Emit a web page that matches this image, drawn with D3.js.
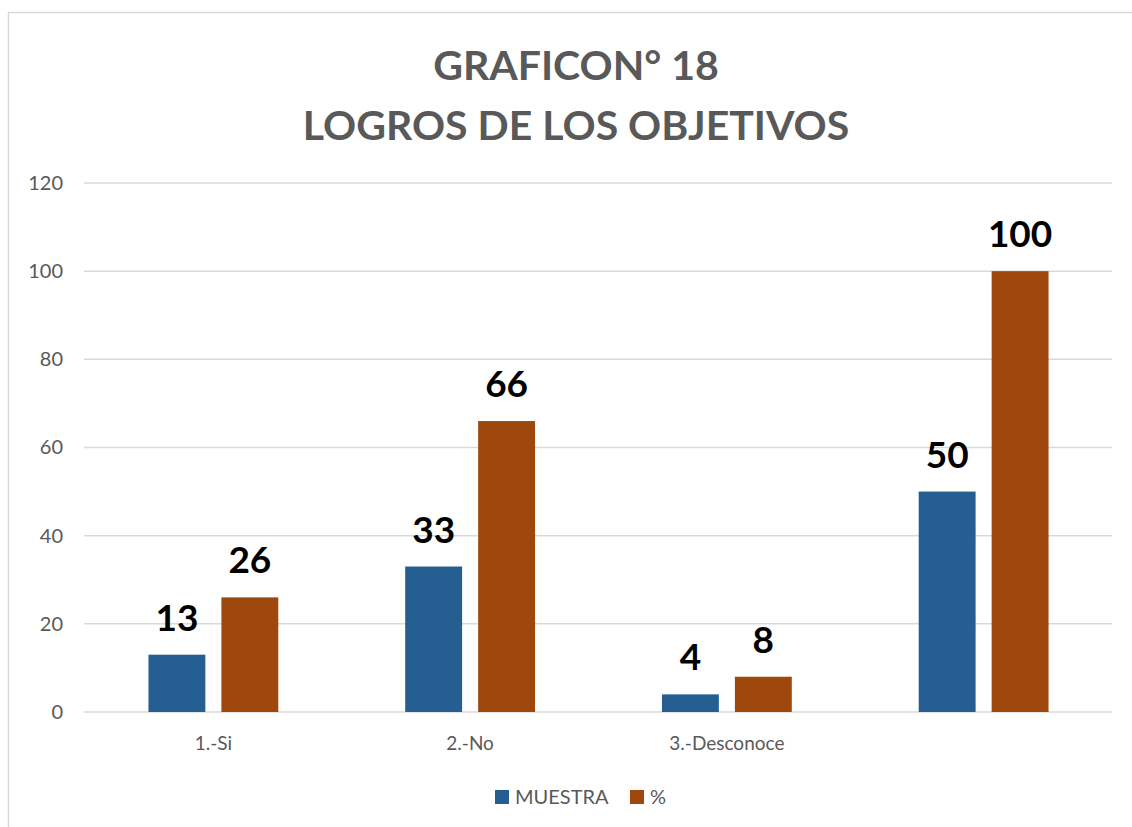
<!DOCTYPE html>
<html>
<head>
<meta charset="utf-8">
<script src="https://cdn.jsdelivr.net/npm/d3@7"></script>
<style>
  body { margin: 0; background: #fff; }
  svg { display: block; font-family: Lato, "Open Sans", sans-serif; }
</style>
</head>
<body>
<div id="chart-area"></div>
<script>
// data
var categories = ["1.-Si", "2.-No", "3.-Desconoce", ""];
var seriesNames = ["MUESTRA", "%"];
var muestra = [13, 33, 4, 50];
var porcentaje = [26, 66, 8, 100];
var yTicks = [0, 20, 40, 60, 80, 100, 120];
var titleLines = ["GRAFICON° 18", "LOGROS DE LOS OBJETIVOS"];

var colors = { "MUESTRA": "#255e91", "%": "#9e480e" };

var W = 1132, H = 827;
var margin = { left: 85, right: 20, top: 183, bottom: 115 },
    width = W - margin.left - margin.right,
    height = H - margin.top - margin.bottom;

var svg = d3.select("#chart-area").append("svg")
    .attr("width", W)
    .attr("height", H);

// outer frame
svg.append("rect")
    .attr("x", 8.5).attr("y", 12.5)
    .attr("width", W).attr("height", H)
    .attr("fill", "none")
    .attr("stroke", "#d9d9d9")
    .attr("stroke-width", 1.5);

// title
svg.append("g").selectAll("text")
    .data(titleLines)
    .enter().append("text")
    .attr("x", 576)
    .attr("y", (d, i) => 80 + i * 60)
    .attr("text-anchor", "middle")
    .attr("font-size", "41px")
    .attr("font-weight", "bold")
    .attr("fill", "#595959")
    .text(d => d);

var g = svg.append("g")
    .attr("transform", "translate(" + margin.left + "," + margin.top + ")");

// scales
var x0 = d3.scaleBand().domain(categories.map((c, i) => i)).range([0, width]);
var x1 = d3.scaleBand().domain(seriesNames).range([0, x0.bandwidth()])
    .paddingInner(0.22).paddingOuter(0.87);
var y = d3.scaleLinear().domain([0, 120]).range([height, 0]);

// gridlines
g.append("g").selectAll("line")
    .data(yTicks)
    .enter().append("line")
    .attr("x1", -1).attr("x2", width)
    .attr("y1", d => y(d)).attr("y2", d => y(d))
    .attr("stroke", "#d9d9d9")
    .attr("stroke-width", 1.5);

// y-axis labels
var yAxis = g.append("g")
    .call(d3.axisLeft(y).tickValues(yTicks).tickSize(0).tickPadding(22));
yAxis.select(".domain").remove();
yAxis.selectAll("text")
    .attr("font-size", "20px")
    .attr("font-family", "Lato, 'Open Sans', sans-serif")
    .attr("fill", "#595959");

// x-axis labels
var xAxis = g.append("g")
    .attr("transform", "translate(0," + height + ")")
    .call(d3.axisBottom(x0).tickSize(0).tickPadding(25).tickFormat(i => categories[i]));
xAxis.select(".domain").remove();
xAxis.selectAll("text")
    .attr("font-size", "19px")
    .attr("font-family", "Lato, 'Open Sans', sans-serif")
    .attr("fill", "#595959");

// bars
var rows = categories.map((c, i) => [
    { key: "MUESTRA", i: i, value: muestra[i] },
    { key: "%", i: i, value: porcentaje[i] }
]);

var groups = g.append("g").selectAll("g")
    .data(rows)
    .enter().append("g")
    .attr("transform", (d, i) => "translate(" + x0(i) + ",0)");

groups.selectAll("rect")
    .data(d => d)
    .enter().append("rect")
    .attr("x", d => x1(d.key))
    .attr("y", d => y(d.value))
    .attr("width", x1.bandwidth())
    .attr("height", d => height - y(d.value))
    .attr("fill", d => colors[d.key]);

groups.selectAll("text")
    .data(d => d)
    .enter().append("text")
    .attr("x", d => x1(d.key) + x1.bandwidth() / 2)
    .attr("y", d => y(d.value) - 24)
    .attr("text-anchor", "middle")
    .attr("font-size", "37px")
    .attr("font-weight", "bold")
    .attr("fill", "#000")
    .text(d => d.value);

// legend
var legend = svg.append("g").attr("transform", "translate(495,797)");
var legendX = [0, 135];
seriesNames.forEach((s, i) => {
    var lg = legend.append("g").attr("transform", "translate(" + legendX[i] + ",0)");
    lg.append("rect")
        .attr("x", 0).attr("y", -7)
        .attr("width", 14).attr("height", 14)
        .attr("fill", colors[s]);
    lg.append("text")
        .attr("x", 20).attr("y", 7)
        .attr("font-size", "20px")
        .attr("fill", "#595959")
        .text(s);
});
</script>
</body>
</html>
